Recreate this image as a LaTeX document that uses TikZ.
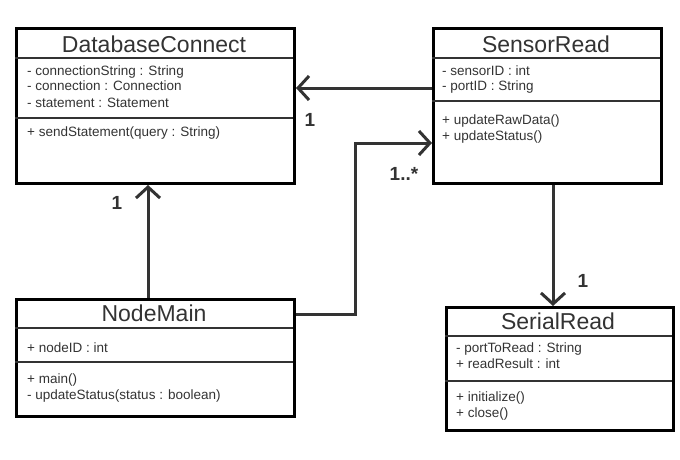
\documentclass[tikz,border=0pt]{standalone}
\usepackage{fontspec}
\setmainfont{Liberation Sans}
\usetikzlibrary{arrows.meta}
\definecolor{ink}{HTML}{333333}
\tikzset{
  classbox/.style={draw=black, line width=3pt, rectangle, inner sep=0pt, anchor=north west},
  sep/.style={draw=ink, line width=2pt},
  title/.style={font=\fontsize{23}{25}\selectfont, text=ink, anchor=center, inner sep=0pt},
  member/.style={font=\fontsize{13.5}{15}\selectfont, text=ink, anchor=base west, inner sep=0pt},
  conn/.style={draw=ink, line width=3pt, -{Straight Barb[length=11pt,width=24pt,line width=3pt]}},
  mult/.style={font=\fontsize{19}{21}\selectfont\bfseries, text=ink, anchor=center, inner sep=0pt}
}
\begin{document}
\begin{tikzpicture}[x=1pt,y=-1pt]
\useasboundingbox (0,0) rectangle (680,460);
% DatabaseConnect
\node[classbox, minimum width=278pt, minimum height=155pt] (db) at (15,27) {};
\draw[sep] (15,58) -- (293,58);
\draw[sep] (15,118) -- (293,118);
\node[title] (dbt) at (154,44) {DatabaseConnect};
\node[member] (dba1) at (27,75) {- connectionString : String};
\node[member] (dba2) at (27,91) {- connection : Connection};
\node[member] (dba3) at (27,107) {- statement : Statement};
\node[member] (dbm1) at (27,136) {+ sendStatement(query : String)};
% SensorRead
\node[classbox, minimum width=228pt, minimum height=155pt] (sr) at (432,27) {};
\draw[sep] (432,58) -- (660,58);
\draw[sep] (432,101) -- (660,101);
\node[title] (srt) at (546,44) {SensorRead};
\node[member] (sra1) at (442,75) {- sensorID : int};
\node[member] (sra2) at (442,91) {- portID : String};
\node[member] (srm1) at (442,124) {+ updateRawData()};
\node[member] (srm2) at (442,140) {+ updateStatus()};
% NodeMain
\node[classbox, minimum width=278pt, minimum height=117pt] (nm) at (15,298) {};
\draw[sep] (15,328) -- (293,328);
\draw[sep] (15,362) -- (293,362);
\node[title] (nmt) at (154,313) {NodeMain};
\node[member] (nma1) at (27,352) {+ nodeID : int};
\node[member] (nmm1) at (27,383) {+ main()};
\node[member] (nmm2) at (27,399) {- updateStatus(status : boolean)};
% SerialRead
\node[classbox, minimum width=227pt, minimum height=123pt] (ser) at (445,306) {};
\draw[sep] (445,336) -- (672,336);
\draw[sep] (445,381) -- (672,381);
\node[title] (sert) at (558,321) {SerialRead};
\node[member] (sera1) at (456,352) {- portToRead : String};
\node[member] (sera2) at (456,368) {+ readResult : int};
\node[member] (serm1) at (456,401) {+ initialize()};
\node[member] (serm2) at (456,417) {+ close()};
% connectors
\draw[conn] (sr.west |- 0,88) -- (db.east |- 0,88);
\coordinate (bend) at (355,143);
\draw[conn] (nm.east |- 0,314) -| (bend) -- (sr.west |- bend);
\draw[conn] (nm.north -| 148,0) -- (db.south -| 148,0);
\draw[conn] (sr.south -| 553,0) -- (ser.north -| 553,0);
% multiplicities
\node[mult] (m1) at (310,120) {1};
\node[mult] (m2) at (404,174) {1..*};
\node[mult] (m3) at (117,203) {1};
\node[mult] (m4) at (583,281) {1};
\end{tikzpicture}
\end{document}
